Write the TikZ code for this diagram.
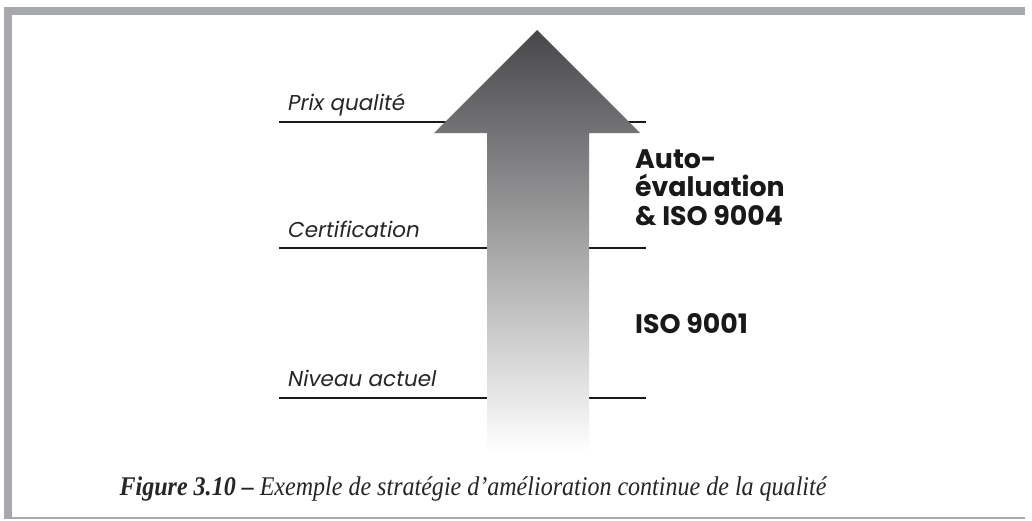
\documentclass[tikz,border=0pt]{standalone}
\usepackage{fontspec}
\setmainfont{Liberation Serif}
\newfontfamily\geo{Poppins}
\begin{document}
\begin{tikzpicture}[x=1pt,y=-1pt,
  frame/.style={fill=framegray,draw=none},
  level/.style={line width=2pt,draw=black!90},
  lvltext/.style={anchor=base west,inner sep=0pt,font=\geo\itshape\fontsize{21.5}{24}\selectfont,text=black!85},
  strat/.style={anchor=base west,inner sep=0pt,font=\geo\bfseries\fontsize{26.8}{28.5}\selectfont,align=left,text=black!90},
  captext/.style={anchor=base,inner sep=0pt,font=\itshape\fontsize{27}{30}\selectfont,text=black!85}]
\definecolor{framegray}{HTML}{A7A8AB}
\definecolor{arrowtop}{HTML}{47474A}
\useasboundingbox (0,0) rectangle (1032,520);
\fill[white] (0,0) rectangle (1032,520);
% frame
\fill[frame] (4,7) rectangle (1025,15);
\fill[frame] (4,7) rectangle (12,519);
\fill[frame] (4,517) rectangle (1025,519);
% level lines
\coordinate (p1) at (279,122); \coordinate (p2) at (646,122);
\coordinate (c1) at (279,248); \coordinate (c2) at (646,248);
\coordinate (n1) at (279,398); \coordinate (n2) at (646,398);
\draw[level] (p1) -- (p2);
\draw[level] (c1) -- (c2);
\draw[level] (n1) -- (n2);
% arrow
\shade[top color=arrowtop,bottom color=white]
  (537,30) -- (640,133) -- (589,133) -- (589,452) -- (487,452) -- (487,133) -- (434,133) -- cycle;
% labels
\node[lvltext] (prix) at (288,110) {Prix qualité};
\node[lvltext] (cert) at (288,237) {Certification};
\node[lvltext] (niv) at (288,386) {Niveau actuel};
\node[strat] (auto) at (635,225) {Auto-\\évaluation\\\& ISO 9004};
\node[strat] (iso) at (635,333) {ISO 9001};
\node[captext] (caption) at (473,495) {\scalebox{0.89}[1]{\textbf{Figure 3.10 –} Exemple de stratégie d’amélioration continue de la qualité}};
\end{tikzpicture}
\end{document}
